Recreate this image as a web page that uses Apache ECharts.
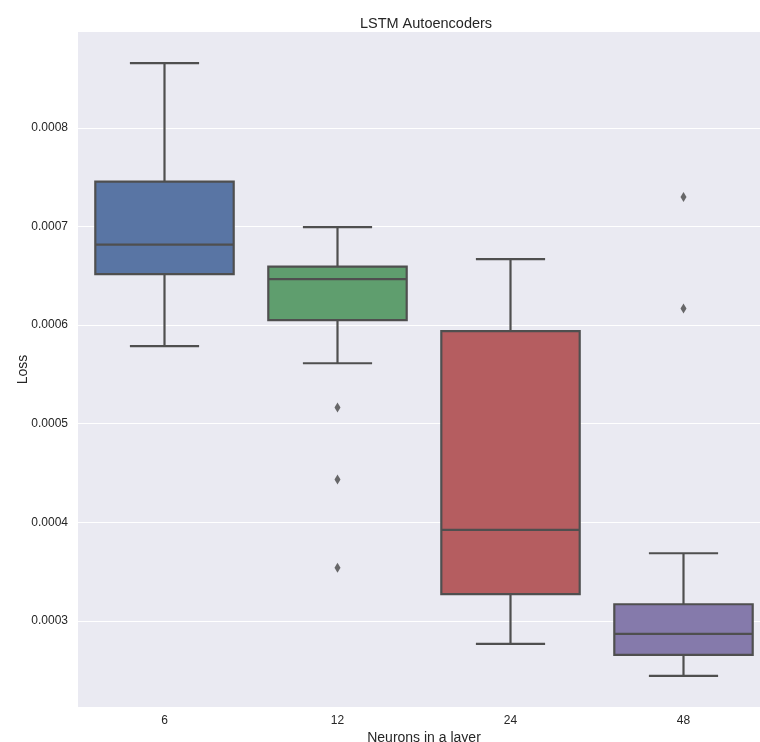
<!DOCTYPE html>
<html>
<head>
<meta charset="utf-8">
<title>LSTM Autoencoders</title>
<script src="https://cdn.jsdelivr.net/npm/echarts@6/dist/echarts.min.js"></script>
<style>
  html, body { margin: 0; padding: 0; background: #ffffff; }
  #chart { width: 760px; height: 742px; }
</style>
</head>
<body>
<div id="chart"></div>
<script>
// Neurons per layer (categories)
const categories = ['6', '12', '24', '48'];

// Five-number summaries of the loss for each layer size
const whiskerLow  = [0.0005786, 0.0005613, 0.0002767, 0.0002442];
const quartile1   = [0.0006516, 0.0006050, 0.0003271, 0.0002655];
const medians     = [0.0006816, 0.0006465, 0.0003923, 0.0002868];
const quartile3   = [0.0007455, 0.0006593, 0.0005938, 0.0003169];
const whiskerHigh = [0.0008656, 0.0006993, 0.0006668, 0.0003686];

// Points outside the whiskers: [category index, loss]
const outliers = [
  [1, 0.0005163],
  [1, 0.0004433],
  [1, 0.0003538],
  [3, 0.0007300],
  [3, 0.0006167]
];

// Y range of the plot area
const yMin = 0.0002127;
const yMax = 0.0008972;

const boxColors = ['#5975a4', '#5f9e6e', '#b55d60', '#857aab'];
const lineColor = '#4f4f4f';
const textColor = '#262626';
const fontFamily = '"Liberation Sans", Arial, sans-serif';

const boxData = categories.map((c, i) => [
  i, whiskerLow[i], quartile1[i], medians[i], quartile3[i], whiskerHigh[i]
]);

function renderBox(params, api) {
  const idx = api.value(0);
  const band = api.size([1, 0])[0];
  const boxW = band * 0.8;
  const capW = boxW * 0.5;
  const cx = api.coord([idx, 0])[0];
  const yLow = api.coord([idx, api.value(1)])[1];
  const yQ1 = api.coord([idx, api.value(2)])[1];
  const yMed = api.coord([idx, api.value(3)])[1];
  const yQ3 = api.coord([idx, api.value(4)])[1];
  const yHigh = api.coord([idx, api.value(5)])[1];
  const stroke = { stroke: lineColor, lineWidth: 2.2, fill: null };
  return {
    type: 'group',
    children: [
      { type: 'line', shape: { x1: cx, y1: yQ3, x2: cx, y2: yHigh }, style: stroke },
      { type: 'line', shape: { x1: cx, y1: yQ1, x2: cx, y2: yLow }, style: stroke },
      { type: 'line', shape: { x1: cx - capW / 2, y1: yHigh, x2: cx + capW / 2, y2: yHigh }, style: stroke },
      { type: 'line', shape: { x1: cx - capW / 2, y1: yLow, x2: cx + capW / 2, y2: yLow }, style: stroke },
      {
        type: 'rect',
        shape: { x: cx - boxW / 2, y: yQ3, width: boxW, height: yQ1 - yQ3 },
        style: { fill: boxColors[idx], stroke: lineColor, lineWidth: 2.2 }
      },
      { type: 'line', shape: { x1: cx - boxW / 2, y1: yMed, x2: cx + boxW / 2, y2: yMed }, style: stroke }
    ]
  };
}

const chart = echarts.init(document.getElementById('chart'), null, { renderer: 'canvas' });

chart.setOption({
  animation: false,
  backgroundColor: '#ffffff',
  textStyle: { fontFamily: fontFamily },
  title: {
    text: 'LSTM Autoencoders',
    left: 421,
    top: 11,
    textAlign: 'center',
    textStyle: { fontSize: 14.5, fontWeight: 'normal', color: textColor, fontFamily: fontFamily }
  },
  grid: {
    show: true,
    left: 78,
    top: 32,
    width: 692,
    height: 675,
    outerBoundsMode: 'none',
    containLabel: false,
    backgroundColor: '#eaeaf2',
    borderWidth: 0
  },
  xAxis: {
    type: 'category',
    data: categories,
    boundaryGap: true,
    name: 'Neurons in a layer',
    nameLocation: 'middle',
    nameGap: 24,
    nameMoveOverlap: false,
    nameTextStyle: { fontSize: 14, color: textColor, fontFamily: fontFamily },
    axisLine: { show: false },
    axisTick: { show: false },
    splitLine: { show: false },
    axisLabel: { fontSize: 12, color: textColor, margin: 8, fontFamily: fontFamily }
  },
  yAxis: {
    type: 'value',
    min: yMin,
    max: yMax,
    minInterval: 0.0001,
    maxInterval: 0.0001,
    name: 'Loss',
    nameLocation: 'middle',
    nameGap: 48,
    nameMoveOverlap: false,
    nameTextStyle: { fontSize: 14, color: textColor, fontFamily: fontFamily },
    axisLine: { show: false },
    axisTick: { show: false },
    splitLine: {
      show: true,
      showMinLine: false,
      showMaxLine: false,
      lineStyle: { color: '#ffffff', width: 1.2 }
    },
    axisLabel: {
      fontSize: 12,
      color: textColor,
      margin: 10,
      showMinLabel: false,
      showMaxLabel: false,
      fontFamily: fontFamily,
      formatter: v => v.toFixed(4)
    }
  },
  series: [
    {
      type: 'custom',
      name: 'Loss',
      data: boxData,
      encode: { x: 0, y: [1, 2, 3, 4, 5] },
      renderItem: renderBox,
      clip: false,
      z: 2
    },
    {
      type: 'scatter',
      name: 'Outliers',
      data: outliers,
      symbol: 'diamond',
      symbolSize: [6, 10],
      itemStyle: { color: '#464646' },
      z: 3
    }
  ]
});
</script>
</body>
</html>
